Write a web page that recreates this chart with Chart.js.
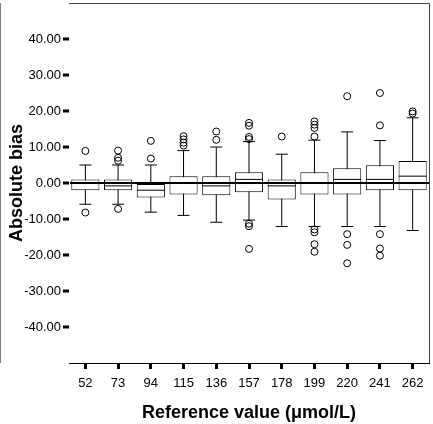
<!DOCTYPE html>
<html>
<head>
<meta charset="utf-8">
<script src="https://cdn.jsdelivr.net/npm/chart.js@4"></script>
<style>
  html, body { margin: 0; padding: 0; background: #fff; }
</style>
</head>
<body>
<canvas id="boxChart" width="433" height="424"></canvas>
<script>
// reference values (µmol/L) on the x axis
const categories = ['52', '73', '94', '115', '136', '157', '178', '199', '220', '241', '262'];

// box plot statistics
const q1          = [-2.0, -2.0, -4.0, -3.2, -3.4, -2.6, -4.6, -3.2, -3.2, -2.0, -2.0];
const medians     = [ 0.0, -0.8, -2.0,  0.0, -0.8,  1.0, -0.8,  0.0,  1.0,  1.0,  1.9];
const q3          = [ 1.0,  1.0,  0.0,  1.9,  1.9,  3.0,  1.0,  3.0,  4.1,  4.9,  6.1];
const whiskerLow  = [-5.9, -5.9, -8.1, -9.0, -10.9, -10.3, -12.1, -12.1, -12.1, -12.1, -13.2];
const whiskerHigh = [ 5.0,  5.0,  5.0,  9.0, 10.0, 11.5,  8.0, 11.9, 14.2, 11.8, 18.1];

// outliers per category (same order as categories)
const outliers = [
  [8.9, -8.2],
  [9.0, 7.0, 6.2, -7.2],
  [11.7, 6.8],
  [13.0, 12.1, 11.2, 10.4],
  [14.3, 12.0],
  [16.7, 15.9, 12.8, 12.2, -11.3, -12.0, -18.3],
  [12.9],
  [17.1, 16.2, 15.3, 12.9, -12.9, -13.7, -17.0, -19.1],
  [24.1, -14.2, -17.2, -22.3],
  [25.0, 16.0, -14.2, -18.2, -20.2],
  [19.9, 19.3]
];

const yTicks = [-40, -30, -20, -10, 0, 10, 20, 30, 40];

const FONT = "'Liberation Sans', Arial, sans-serif";

const outlierPoints = [];
outliers.forEach((list, i) => {
  list.forEach(v => outlierPoints.push({ x: categories[i], y: v }));
});

// vertical whisker segments, broken with a null between categories
const whiskerPoints = [];
categories.forEach((c, i) => {
  whiskerPoints.push({ x: c, y: whiskerLow[i] });
  whiskerPoints.push({ x: c, y: whiskerHigh[i] });
  whiskerPoints.push({ x: c, y: null });
});

// top and right edge of the plot frame
const framePlugin = {
  id: 'frame',
  afterDraw(chart) {
    const { ctx, chartArea } = chart;
    ctx.save();
    ctx.strokeStyle = '#404040';
    ctx.lineWidth = 1;
    ctx.beginPath();
    ctx.moveTo(chartArea.left, chartArea.top + 0.5);
    ctx.lineTo(chartArea.right + 0.5, chartArea.top + 0.5);
    ctx.lineTo(chartArea.right + 0.5, chartArea.bottom);
    ctx.stroke();
    ctx.restore();
  }
};

function noScalePadding(scale) {
  scale.paddingTop = 0;
  scale.paddingBottom = 0;
  scale.paddingLeft = 0;
  scale.paddingRight = 0;
}

new Chart(document.getElementById('boxChart'), {
  type: 'bar',
  data: {
    labels: categories,
    datasets: [
      {
        type: 'line',
        data: whiskerPoints,
        showLine: true,
        spanGaps: false,
        borderColor: '#000',
        borderWidth: 1,
        pointRadius: 0,
        order: 3
      },
      {
        type: 'bar',
        data: q1.map((lo, i) => [lo, q3[i]]),
        backgroundColor: '#fff',
        borderColor: '#000',
        borderWidth: 1,
        borderSkipped: false,
        categoryPercentage: 1,
        barPercentage: 0.86,
        order: 2
      },
      {
        // median line
        type: 'line',
        data: medians,
        showLine: false,
        pointStyle: 'line',
        pointRadius: 14,
        pointBorderWidth: 1,
        pointBorderColor: '#000',
        order: 1
      },
      {
        // whisker caps
        type: 'line',
        data: whiskerHigh,
        showLine: false,
        pointStyle: 'line',
        pointRadius: 6,
        pointBorderWidth: 1,
        pointBorderColor: '#000',
        order: 1
      },
      {
        type: 'line',
        data: whiskerLow,
        showLine: false,
        pointStyle: 'line',
        pointRadius: 6,
        pointBorderWidth: 1,
        pointBorderColor: '#000',
        order: 1
      },
      {
        type: 'line',
        data: outlierPoints,
        showLine: false,
        pointStyle: 'circle',
        pointRadius: 3.5,
        pointBorderWidth: 1,
        pointBorderColor: '#000',
        pointBackgroundColor: 'rgba(0,0,0,0)',
        order: 0
      }
    ]
  },
  options: {
    responsive: false,
    animation: false,
    events: [],
    layout: {
      autoPadding: false,
      padding: { top: 3, right: 4, left: 0, bottom: 0 }
    },
    plugins: {
      legend: { display: false },
      tooltip: { enabled: false }
    },
    scales: {
      x: {
        type: 'category',
        offset: true,
        afterFit: scale => { scale.height = 61; noScalePadding(scale); },
        border: { display: true, color: '#000', width: 1 },
        grid: {
          offset: false,
          drawOnChartArea: false,
          drawTicks: true,
          tickLength: 6,
          tickWidth: 3,
          tickColor: '#000'
        },
        ticks: {
          color: '#000',
          font: { family: FONT, size: 13 },
          padding: 7,
          maxRotation: 0,
          autoSkip: false
        },
        title: {
          display: true,
          text: 'Reference value (\u03bcmol/L)',
          color: '#000',
          font: { family: FONT, size: 18, weight: 'bold' },
          padding: { top: 0, bottom: 0 }
        }
      },
      y: {
        min: -50,
        max: 50,
        afterFit: scale => { scale.width = 69; noScalePadding(scale); },
        afterBuildTicks: scale => {
          scale.ticks = yTicks.map(v => ({ value: v }));
        },
        border: { display: true, color: '#000', width: 1 },
        grid: {
          z: 1, // zero line sits over the boxes
          drawOnChartArea: true,
          color: c => (c.tick && c.tick.value === 0 ? '#000' : 'rgba(0,0,0,0)'),
          lineWidth: c => (c.tick && c.tick.value === 0 ? 2 : 0),
          drawTicks: true,
          tickLength: 6,
          tickWidth: 3,
          tickColor: '#000'
        },
        ticks: {
          color: '#000',
          font: { family: FONT, size: 13 },
          padding: 2,
          callback: v => Number(v).toFixed(2)
        },
        title: {
          display: true,
          text: 'Absolute bias',
          color: '#000',
          font: { family: FONT, size: 18, weight: 'bold' },
          padding: { top: 6, bottom: 0 }
        }
      }
    }
  },
  plugins: [framePlugin]
});
</script>
</body>
</html>
